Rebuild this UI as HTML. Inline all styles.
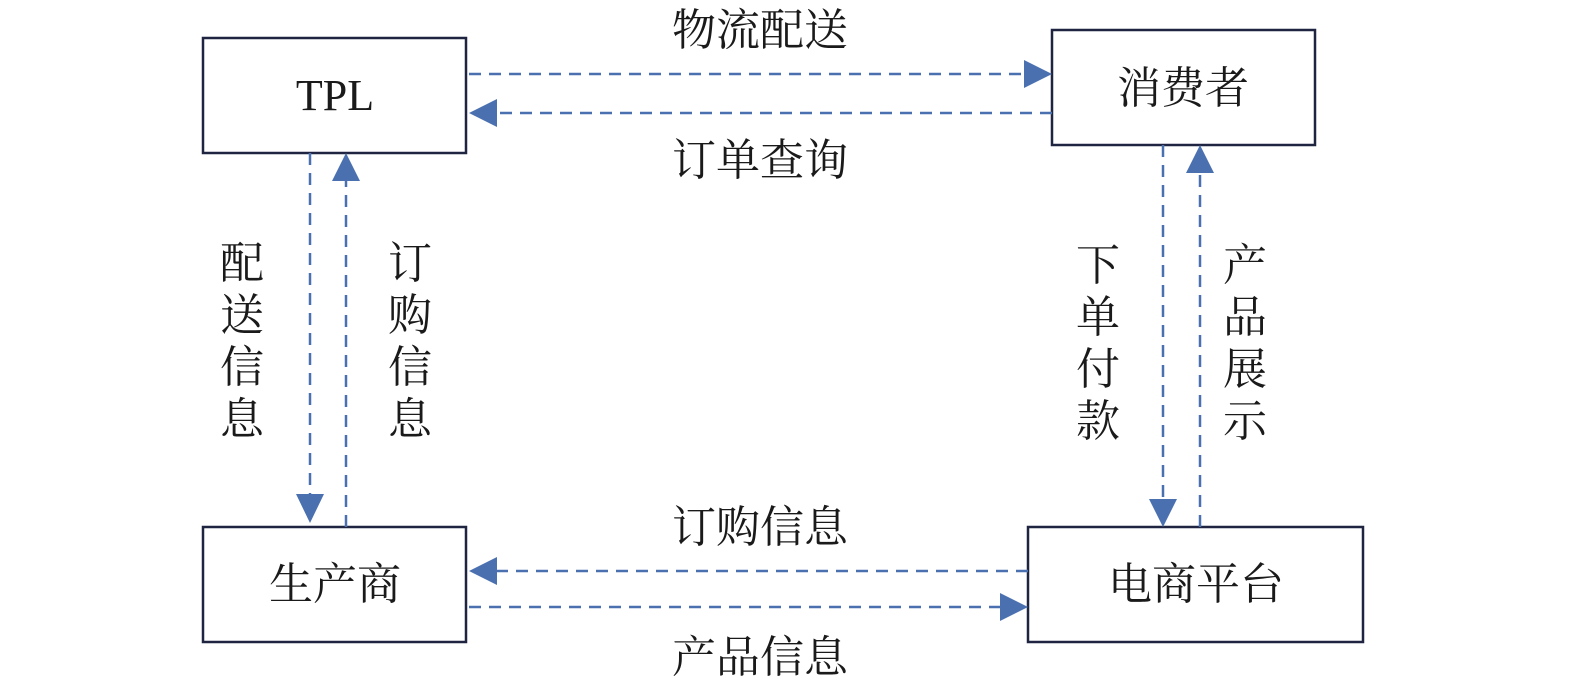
<!DOCTYPE html>
<html><head><meta charset="utf-8"><style>
html,body{margin:0;padding:0;background:#fff;}
svg{display:block;}
text{font-family:"Liberation Serif","Noto Serif CJK SC",serif;font-size:44px;fill:#1a1a1a;}
</style></head><body>
<svg width="1575" height="689" viewBox="0 0 1575 689" xmlns="http://www.w3.org/2000/svg">
<defs>
<marker id="ah" markerWidth="10" markerHeight="10" refX="10" refY="5" orient="auto" markerUnits="userSpaceOnUse" viewBox="0 0 10 10">
</marker>
</defs>
<g fill="#fff" stroke="#1f2540" stroke-width="2.5">
<rect x="203" y="38" width="263" height="115"/>
<rect x="1052" y="30" width="263" height="115"/>
<rect x="203" y="527" width="263" height="115"/>
<rect x="1028" y="527" width="335" height="115"/>
</g>
<g stroke="#4a70b0" stroke-width="2.5" stroke-dasharray="12,8" fill="none">
<line x1="469" y1="74" x2="1026" y2="74"/>
<line x1="1052" y1="113" x2="497" y2="113"/>
<line x1="310" y1="153" x2="310" y2="495"/>
<line x1="346" y1="527" x2="346" y2="180"/>
<line x1="1163" y1="145" x2="1163" y2="500"/>
<line x1="1200" y1="527" x2="1200" y2="172"/>
<line x1="1028" y1="571" x2="497" y2="571"/>
<line x1="469" y1="607" x2="1000" y2="607"/>
</g>
<g fill="#4a70b0">
<polygon points="1052,74 1024,60 1024,88"/>
<polygon points="469,113 497,99 497,127"/>
<polygon points="310,523 296,494 324,494"/>
<polygon points="346,153 332,181 360,181"/>
<polygon points="1163,527 1149,499 1177,499"/>
<polygon points="1200,145 1186,173 1214,173"/>
<polygon points="469,571 497,557 497,585"/>
<polygon points="1028,607 1000,593 1000,621"/>
</g>
<g text-anchor="middle">
<text x="335" y="110">TPL</text>
<text x="1183" y="103">消费者</text>
<text x="335" y="599">生产商</text>
<text x="1196" y="599">电商平台</text>
<text x="760" y="45">物流配送</text>
<text x="760" y="175">订单查询</text>
<text x="760" y="542">订购信息</text>
<text x="760" y="672">产品信息</text>
<text x="242" y="278">配</text><text x="242" y="330">送</text><text x="242" y="382">信</text><text x="242" y="434">息</text>
<text x="410" y="278">订</text><text x="410" y="330">购</text><text x="410" y="382">信</text><text x="410" y="434">息</text>
<text x="1098" y="280">下</text><text x="1098" y="332">单</text><text x="1098" y="384">付</text><text x="1098" y="436">款</text>
<text x="1245" y="280">产</text><text x="1245" y="332">品</text><text x="1245" y="384">展</text><text x="1245" y="436">示</text>
</g>
</svg>
</body></html>
